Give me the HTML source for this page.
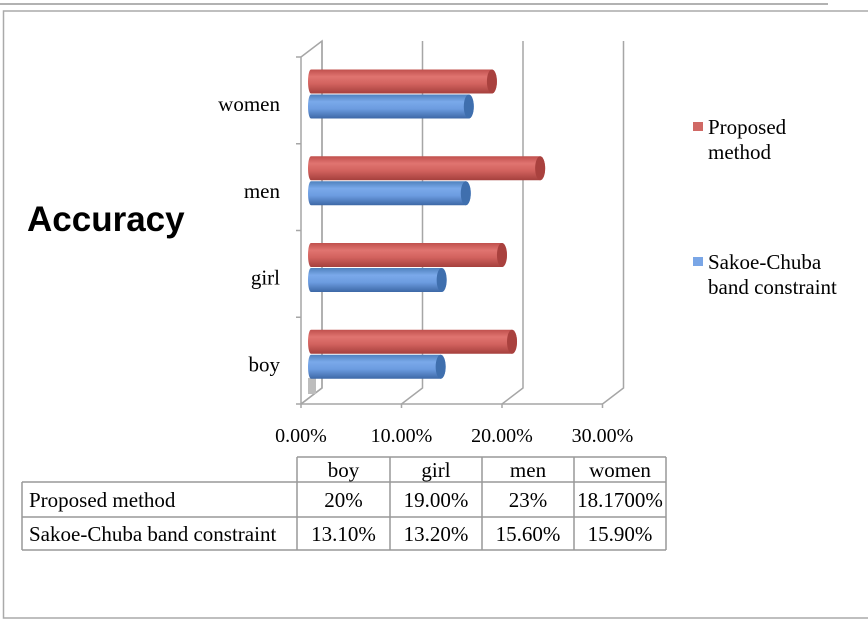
<!DOCTYPE html>
<html><head><meta charset="utf-8"><style>
body{margin:0;background:#fff;}
svg{display:block;font-family:"Liberation Serif",serif;}
</style></head><body>
<svg width="868" height="624" viewBox="0 0 868 624">
<defs>
<linearGradient id="gr" x1="0" y1="0" x2="0" y2="1"><stop offset="0" stop-color="#c0504d"/><stop offset="0.3" stop-color="#e07470"/><stop offset="0.6" stop-color="#d2625e"/><stop offset="1" stop-color="#a5403d"/></linearGradient>
<linearGradient id="gb" x1="0" y1="0" x2="0" y2="1"><stop offset="0" stop-color="#4f81bd"/><stop offset="0.3" stop-color="#7aa9ea"/><stop offset="0.6" stop-color="#6c9ce0"/><stop offset="1" stop-color="#3d68a6"/></linearGradient>
</defs>
<line x1="0" y1="4" x2="828" y2="4" stroke="#999" stroke-width="1.5"/>
<path d="M868 11 H3.5 V618 H868" fill="none" stroke="#aaa" stroke-width="1.5"/>
<text x="27" y="231" font-family="Liberation Sans,sans-serif" font-weight="bold" font-size="35" fill="#000">Accuracy</text>
<g id="axes" stroke="#a6a6a6" stroke-width="1.5" fill="none"></g>
<g id="bars"></g>
<g id="labels" font-size="20" fill="#000"></g>
<g font-size="21">
<rect x="693" y="122" width="10" height="9" fill="#d06965"/>
<text x="708" y="134"><tspan x="708">Proposed</tspan><tspan x="708" dy="25">method</tspan></text>
<rect x="693" y="257" width="10" height="9" fill="#7aa6e6"/>
<text x="708" y="269"><tspan x="708">Sakoe-Chuba</tspan><tspan x="708" dy="25">band constraint</tspan></text>
</g>
<g id="table" font-size="21" fill="#000"></g>
</svg>
<script>
const categories=["boy","girl","men","women"];
const proposed=[20.2,19.2,23.0,18.2];
const sakoe=[13.1,13.2,15.6,15.9];
const tableProposed=["20%","19.00%","23%","18.1700%"];
const tableSakoe=["13.10%","13.20%","15.60%","15.90%"];
const xTicks=[0,10,20,30];
const NS="http://www.w3.org/2000/svg";
function mk(tag,attrs,parent){const e=document.createElementNS(NS,tag);for(const k in attrs)e.setAttribute(k,attrs[k]);parent.appendChild(e);return e;}
const X0=301,PX=10.05,YB=404,YT=57,DX=21,DY=-16;
const xs=v=>X0+v*PX;
const catH=(YB-YT)/categories.length;
const ax=document.getElementById('axes');
let l=mk('path',{d:`M${X0} ${YT} V${YB} M${X0} ${YT} L${X0+DX} ${YT+DY} V${YB+DY} L${X0} ${YB}`},ax);


for(let i=0;i<=categories.length;i++){const y=YT+i*catH;const t=mk('line',{x1:X0-5,y1:y,x2:X0,y2:y},ax);

}
const lab=document.getElementById('labels');
xTicks.forEach(v=>{const x=xs(v);
const g=mk('path',{d:`M${x} ${YB+4} V${YB} L${x+DX} ${YB+DY} V${YT+DY}`},ax);


const t=mk('text',{x:x,y:442,'text-anchor':'middle'},lab);t.textContent=v.toFixed(2)+'%';

});
mk('line',{x1:X0,y1:YB,x2:xs(30),y2:YB},ax);
const fl=mk('rect',{x:X0+7,y:378,width:8,height:16,fill:'#bdbdbd',stroke:'none'},ax);


const bars=document.getElementById('bars');
function bar(v,yc,fill,end,name){const x1=308,x2=xs(v)+8,h=24,y=yc-h/2;
const g=mk('g',{},bars);


mk('path',{d:`M${x1+3} ${y} H${x2} A5 ${h/2} 0 0 1 ${x2} ${y+h} H${x1+3} A3 ${h/2} 0 0 1 ${x1+3} ${y}Z`,fill:`url(#${fill})`},g);
mk('ellipse',{cx:x2,cy:yc,rx:5,ry:h/2,fill:end},g);}
categories.forEach((c,i)=>{const top=YB-(i+1)*catH;
bar(proposed[i],top+24.5,'gr','#a9413e','bar-proposed-'+c);
bar(sakoe[i],top+49.5,'gb','#3f6fae','bar-sakoe-'+c);
const t=mk('text',{x:280,y:top+54,'text-anchor':'end','font-size':21},lab);t.textContent=c;

});
const tb=document.getElementById('table');
const cols=[22,297,390,482,574,666];
const gl=mk('path',{d:`M297 457 H666 M22 482 H666 M22 517 H666 M22 550 H666 M22 482 V550 M297 457 V550 M390 457 V550 M482 457 V550 M574 457 V550 M666 457 V550`,stroke:'#999',fill:'none','stroke-width':1.5},tb);


categories.forEach((c,i)=>{const t=mk('text',{x:(cols[i+1]+cols[i+2])/2,y:477,'text-anchor':'middle'},tb);t.textContent=c;

});
[["Proposed method",tableProposed,507],["Sakoe-Chuba band constraint",tableSakoe,541]].forEach(r=>{
const t=mk('text',{x:29,y:r[2]},tb);t.textContent=r[0];


r[1].forEach((v,i)=>{const c=mk('text',{x:(cols[i+1]+cols[i+2])/2,y:r[2],'text-anchor':'middle'},tb);c.textContent=v;

});});
</script>
</body></html>
